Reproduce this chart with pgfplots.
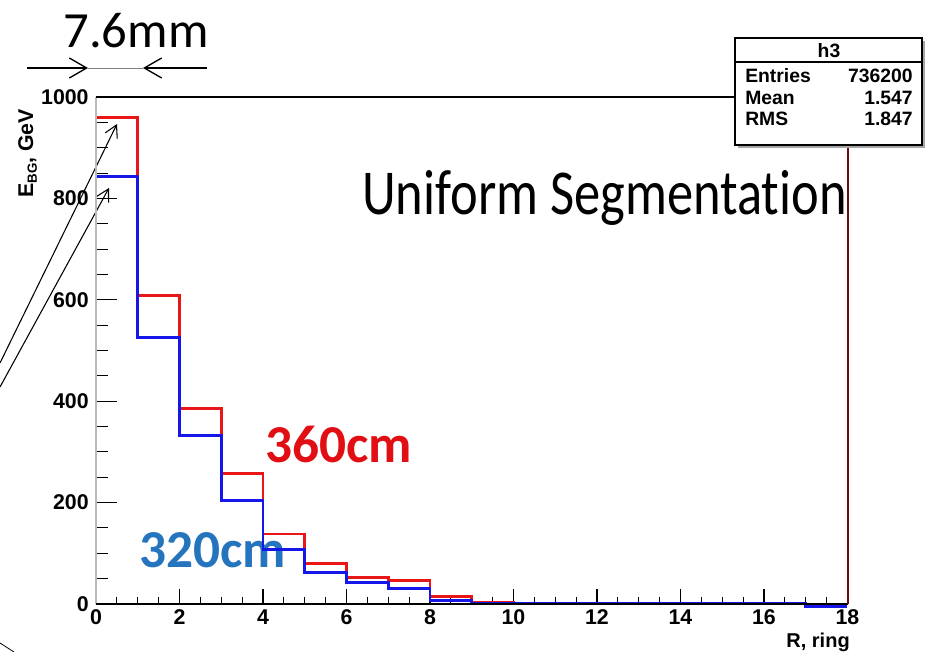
\documentclass[border=0pt]{standalone}
\usepackage{pgfplots}
\pgfplotsset{compat=1.18}
\usepackage{fontspec}
\setmainfont{Liberation Sans}
\newfontfamily\carlito[Ligatures=NoCommon]{Carlito}
\usetikzlibrary{arrows.meta}
\definecolor{hred}{RGB}{232,22,22}
\definecolor{hblue}{RGB}{22,22,232}
\definecolor{lblue}{RGB}{36,116,190}
\definecolor{tred}{RGB}{225,15,20}
\definecolor{maroon}{RGB}{110,10,10}
\newcommand{\rootfont}{\fontsize{16}{16}\selectfont\bfseries}
\newcommand{\statfont}{\fontsize{14.5}{14.5}\selectfont\bfseries}
\begin{document}
\begin{tikzpicture}
\useasboundingbox (0,0) rectangle (699.75pt,-489pt);
% annotations (pixel coordinates)
\begin{scope}[x=0.75pt,y=-0.75pt]
  \node[anchor=base, inner sep=0pt] at (136,48) {\carlito\fontsize{38}{38}\selectfont 7.6mm};
  \draw[gray, line width=0.6pt] (88,68) -- (143,68);
  \draw[black, line width=1.4pt, -{Straight Barb[length=13pt,width=15pt,line width=1pt]}] (27,68) -- (88,68);
  \draw[black, line width=1.4pt, -{Straight Barb[length=13pt,width=15pt,line width=1pt]}] (207,68) -- (143,68);
  \draw[black, line width=0.8pt, -{Straight Barb[length=9pt,width=10pt,line width=0.8pt]}] (0,363) -- (117,124);
  \draw[black, line width=0.8pt, -{Straight Barb[length=9pt,width=10pt,line width=0.8pt]}] (0,387) -- (109,188);
  \draw[black, line width=0.6pt] (0,643) -- (14,652);
  \node[anchor=base west, inner sep=0pt] at (362,215) {\scalebox{0.82}[1]{\carlito\fontsize{48}{48}\selectfont Uniform Segmentation}};
  \node[anchor=base west, inner sep=0pt, text=tred] at (265,463) {\carlito\fontsize{40}{40}\selectfont\bfseries 360cm};
  \node[anchor=base west, inner sep=0pt, text=lblue] at (139,567) {\carlito\fontsize{40}{40}\selectfont\bfseries 320cm};
  \node[anchor=base west, inner sep=0pt, rotate=90] at (33,198) {\rootfont E\raisebox{-0.35ex}{\fontsize{10}{10}\selectfont\bfseries BG}, GeV};
  \node[anchor=base east, inner sep=0pt] at (850,647.5) {\fontsize{15}{15}\selectfont\bfseries R, ring};
\end{scope}
\begin{axis}[
  at={(72pt,-453pt)}, anchor=south west,
  scale only axis, width=563.6pt, height=380.25pt,
  xmin=0, xmax=18, ymin=0, ymax=1000,
  axis line style={draw=none},
  clip=false,
  xtick={0,2,...,18}, minor x tick num=3,
  ytick=\empty,
  xtick pos=bottom,
  tick align=inside,
  major tick length=11pt, minor tick length=5pt,
  every tick/.style={black, line width=0.8pt},
  /pgf/number format/assume math mode=true,
  /pgf/number format/1000 sep={},
  xticklabel style={font=\rootfont, yshift=-3pt, inner sep=1pt},
]
\addplot[hred, line width=2pt, const plot] coordinates {
 (0,959) (1,608) (2,386) (3,257) (4,138) (5,80) (6,52) (7,47) (8,15) (9,3)
 (10,1) (11,1) (12,1) (13,1) (14,1) (15,1) (16,1) (17,0) (18,0)};
\addplot[hblue, line width=2.2pt, const plot] coordinates {
 (0,843) (1,526) (2,333) (3,205) (4,107) (5,62) (6,42) (7,31) (8,6) (9,2)
 (10,0.5) (11,0.5) (12,0.5) (13,0.5) (14,0.5) (15,0.5) (16,0.5) (17,-5) (18,-5)};
\end{axis}
\begin{axis}[
  at={(72pt,-453pt)}, anchor=south west,
  scale only axis, width=563.6pt, height=380.25pt,
  xmin=0, xmax=18, ymin=0, ymax=1000,
  axis line style={draw=none},
  xtick=\empty,
  ytick={0,200,...,1000}, minor y tick num=3,
  ytick pos=left,
  tick align=inside,
  major tick length=16pt, minor tick length=9pt,
  every tick/.style={black, line width=0.8pt},
  /pgf/number format/assume math mode=true,
  /pgf/number format/1000 sep={},
  yticklabel style={font=\rootfont, xshift=-2pt},
]
\addplot[draw=none] coordinates {(0,0)};
\end{axis}
% frame and stats box
\begin{scope}[x=0.75pt,y=-0.75pt]
  \draw[gray!55, line width=1.6pt] (96,97) -- (96,604);
  \draw[black, line width=1.2pt] (96,604) -- (848,604);
  \draw[black, line width=0.8pt] (96,97) -- (735,97);
  \draw[maroon, line width=0.8pt] (848,145) -- (848,604);
  \fill[gray!70] (738,41) rectangle (925,148);
  \draw[fill=white, line width=0.8pt] (735,38) rectangle (922,145);
  \draw[line width=0.8pt] (735,62) -- (922,62);
  \node[inner sep=0pt] at (829,51) {\statfont h3};
  \node[anchor=west, inner sep=0pt] at (745,76) {\statfont Entries};
  \node[anchor=east, inner sep=0pt] at (913,76) {\statfont 736200};
  \node[anchor=west, inner sep=0pt] at (745,98) {\statfont Mean};
  \node[anchor=east, inner sep=0pt] at (913,98) {\statfont 1.547};
  \node[anchor=west, inner sep=0pt] at (745,119) {\statfont RMS};
  \node[anchor=east, inner sep=0pt] at (913,119) {\statfont 1.847};
\end{scope}
\end{tikzpicture}
\end{document}
